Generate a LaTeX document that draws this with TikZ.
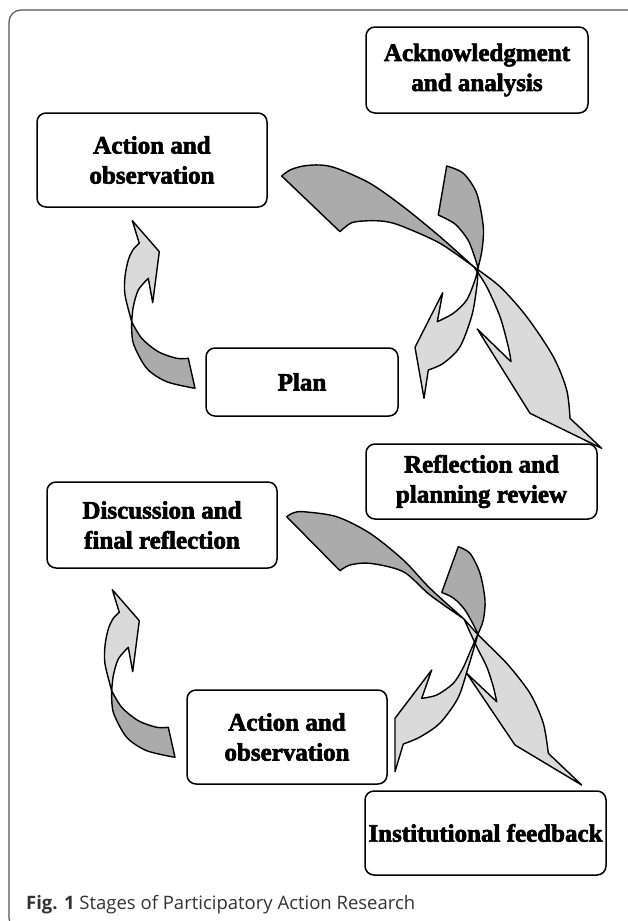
\documentclass[tikz,border=0pt]{standalone}
\usepackage{fontspec}
\newfontfamily\boxfont{Liberation Serif}[BoldFeatures={FakeBold=2.5}]
\newfontfamily\capfont{Open Sans}
\definecolor{darkfill}{HTML}{ABABAB}
\definecolor{lightfill}{HTML}{DADADA}
\definecolor{framecol}{HTML}{555555}
\tikzset{
  stage/.style={draw=black, line width=1.5pt, rounded corners=9pt, fill=white,
    align=center, inner sep=0pt, text=black,
    font=\boxfont\bfseries\fontsize{25}{30}\selectfont},
  partline/.style={draw=black, line width=1.4pt, line join=round},
}
% top-left / bottom-left curved arrow (light head part, dark tail part)
\newcommand\pLlight{plot[smooth] coordinates {(131.7,321.7) (125,295) (125,276.7) (128.3,260) (133.3,249.3) (139.3,243.3)} -- (132.3,220.7) -- (159.3,251.7) -- (152.7,302.7) -- (148.3,278.3) -- plot[smooth] coordinates {(148.3,278.3) (138.3,290) (133.3,306.7) (131.7,321.7)} -- cycle}
\newcommand\pLdark{plot[smooth] coordinates {(131.7,321.7) (133.3,343.3) (146.7,368.3) (166.7,381.7) (195,388.3)} -- (188.3,358.3) -- plot[smooth] coordinates {(188.3,358.3) (176.7,358.3) (158.3,351.7) (141.7,338.3) (131.7,321.7)} -- cycle}
% top cluster
\newcommand\pBonedark{plot[smooth] coordinates {(281.7,176) (290,170) (303.3,166) (320,165) (336.7,168.3) (370,183.3) (403.3,206.7) (440,236.7) (474,267)} -- plot[smooth] coordinates {(474,267) (440,243.3) (403.3,226.7) (386.7,221.7) (370,220.7) (351.7,222.7) (340,231.7)} -- cycle}
\newcommand\pBonelight{plot[smooth] coordinates {(474,267) (500,286.7) (526.7,316.7) (553.3,356.7) (566.7,390) (570,418.3)} -- (601.7,448.3) -- (530,413.3) -- (477.3,329) -- (511,361.7) -- plot[smooth] coordinates {(511,361.7) (508.3,346.7) (500,316.7) (486.7,286.7) (474,267)} -- cycle}
\newcommand\pVonedark{plot[smooth] coordinates {(446.7,166) (463.3,173.3) (476.7,193.3) (483.3,226.7) (482,250) (478,268)} -- plot[smooth] coordinates {(478,268) (475,258) (468,240) (455,224) (438.3,215)} -- cycle}
\newcommand\pVonelight{plot[smooth] coordinates {(478,268) (477,285) (472,315) (460,346.7) (443.3,363.3) (428.3,370)} -- (424,398.3) -- (415,347.3) -- (442.7,292.7) -- (437.3,321.7) -- plot[smooth] coordinates {(437.3,321.7) (453.3,313.3) (466.7,300) (475,280) (478,268)} -- cycle}
% bottom cluster
\newcommand\pBtwodark{plot[smooth] coordinates {(286.7,516.7) (293,513) (303.3,511.7) (336.7,516.7) (370,533.3) (403.3,560) (430,588.3) (464,619)} -- plot[smooth] coordinates {(464,619) (430,595) (403.3,571.7) (370,563.3) (350,565) (340,570.7)} -- cycle}
\newcommand\pBtwolight{plot[smooth] coordinates {(464,619) (480,636.7) (506.7,663.3) (530,693.3) (543.3,723.3) (548.3,753.3)} -- (581.7,785) -- (515,745) -- (466.7,673.3) -- (496.7,701.7) -- plot[smooth] coordinates {(496.7,701.7) (493.3,686.7) (486.7,666.7) (476.7,646.7) (464,619)} -- cycle}
\newcommand\pVtwodark{plot[smooth] coordinates {(458.3,546.7) (470,553.3) (480,573.3) (485,600) (483.3,620) (478,634)} -- plot[smooth] coordinates {(478,634) (472,622) (465,610) (457,601) (450,596) (441.7,592.5)} -- cycle}
\newcommand\pVtwolight{plot[smooth] coordinates {(478,634) (474,648) (468,668) (458,698) (440,723) (420,737) (403.3,744)} -- (395,771.7) -- (395,718.3) -- (431.7,670) -- (421.7,698.3) -- plot[smooth] coordinates {(421.7,698.3) (436.7,695) (453.3,683.3) (463,668) (470,652) (478,634)} -- cycle}
\begin{document}
\begin{tikzpicture}[x=1pt,y=-1pt]
\useasboundingbox (0,0) rectangle (627,921);
\fill[white] (0,0) rectangle (627,921);
% outer frame
\draw[framecol, line width=1.2pt, rounded corners=12pt] (9,10) rectangle (650,930);

% stage boxes
\node[stage, minimum width=222pt, minimum height=86pt] (ack) at (477,70) {Acknowledgment\\and analysis};
\node[stage, minimum width=230pt, minimum height=94pt] (act1) at (152,160) {Action and\\observation};
\node[stage, minimum width=192pt, minimum height=68pt] (plan) at (302,382) {Plan};
\node[stage, minimum width=231pt, minimum height=75pt] (refl) at (481.5,481.5) {Reflection and\\planning review};
\node[stage, minimum width=230pt, minimum height=86pt] (disc) at (162,525) {Discussion and\\final reflection};
\node[stage, minimum width=200pt, minimum height=94pt] (act2) at (287,737) {Action and\\observation};
\node[stage, minimum width=241pt, minimum height=84pt] (inst) at (485.5,833) {Institutional feedback};

% left curved arrows
\foreach \dx/\dy in {0/0, -20/369} {
  \begin{scope}[shift={(\dx,\dy)}]
    \fill[darkfill] \pLdark;
    \fill[lightfill] \pLlight;
    \draw[partline] \pLdark;
    \draw[partline] \pLlight;
  \end{scope}
}
% top cluster
\fill[darkfill] \pVonedark;
\fill[darkfill] \pBonedark;
\fill[lightfill] \pBonelight;
\fill[lightfill] \pVonelight;
\draw[partline] \pVonedark;
\draw[partline] \pBonedark;
\draw[partline] \pBonelight;
\draw[partline] \pVonelight;
% bottom cluster
\fill[darkfill] \pVtwodark;
\fill[darkfill] \pBtwodark;
\fill[lightfill] \pBtwolight;
\fill[lightfill] \pVtwolight;
\draw[partline] \pVtwodark;
\draw[partline] \pBtwodark;
\draw[partline] \pBtwolight;
\draw[partline] \pVtwolight;

% caption
\node[anchor=base west, inner sep=0pt, text=black!80, font=\capfont\fontsize{18.5}{20}\selectfont] (cap) at (26,909) {\textbf{Fig. 1} Stages of Participatory Action Research};
\end{tikzpicture}
\end{document}
